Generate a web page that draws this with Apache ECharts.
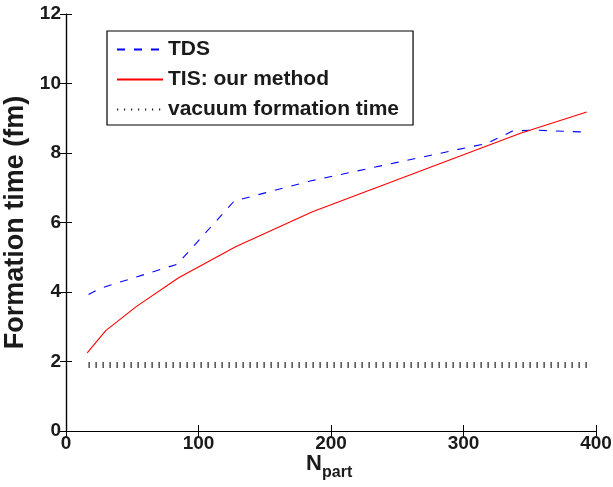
<!DOCTYPE html>
<html>
<head>
<meta charset="utf-8">
<script src="https://cdn.jsdelivr.net/npm/echarts@6/dist/echarts.min.js"></script>
<style>
html,body{margin:0;padding:0;background:#fff;}
#chart{width:613px;height:487px;}
</style>
</head>
<body>
<div id="chart"></div>
<script>
// Data
var tdsN   = [17, 27, 84, 127, 185, 250, 318, 337, 352, 393];
var tdsT   = [3.93, 4.12, 4.80, 6.62, 7.20, 7.73, 8.28, 8.63, 8.66, 8.60];
var tisN   = [16, 30, 53, 85, 128, 186, 343, 393];
var tisT   = [2.25, 2.89, 3.58, 4.41, 5.30, 6.31, 8.57, 9.18];
var vacN   = [17, 393];
var vacT   = [1.9, 1.9];
var seriesNames = ['TDS', 'TIS: our method', 'vacuum formation time'];
var xTicks = [0, 100, 200, 300, 400];
var yTicks = [0, 2, 4, 6, 8, 10, 12];

function pairs(xs, ys) { return xs.map(function (x, i) { return [x, ys[i]]; }); }

var FONT = 'Liberation Sans, Arial, Helvetica, sans-serif';
var TXT = '#1a1a1a';

var chart = echarts.init(document.getElementById('chart'), null, {renderer: 'canvas'});
var axisLineStyle = {show: true, lineStyle: {color: '#000', width: 1.2}};
var tick = {show: true, inside: true, length: 6, lineStyle: {color: '#000', width: 1}};

chart.setOption({
  animation: false,
  backgroundColor: '#fff',
  grid: {left: 66, right: 17, top: 14, bottom: 56, containLabel: false, outerBoundsMode: 'none'},
  xAxis: [{
    type: 'value', position: 'bottom', min: xTicks[0], max: xTicks[xTicks.length - 1], interval: 100,
    axisLine: axisLineStyle, axisTick: tick, splitLine: {show: false},
    axisLabel: {fontFamily: FONT, fontWeight: 'bold', fontSize: 19, color: TXT, margin: 3}
  }, {
    type: 'value', position: 'top', min: xTicks[0], max: xTicks[xTicks.length - 1], interval: 100,
    axisLine: axisLineStyle, axisTick: tick, splitLine: {show: false}, axisLabel: {show: false}
  }],
  yAxis: [{
    type: 'value', position: 'left', min: yTicks[0], max: yTicks[yTicks.length - 1], interval: 2,
    axisLine: axisLineStyle, axisTick: tick, splitLine: {show: false},
    axisLabel: {fontFamily: FONT, fontWeight: 'bold', fontSize: 19, color: TXT, margin: 5},
    name: 'Formation time (fm)', nameLocation: 'middle', nameGap: 36,
    nameTextStyle: {fontFamily: FONT, fontWeight: 'bold', fontSize: 27, color: TXT}
  }, {
    type: 'value', position: 'right', min: yTicks[0], max: yTicks[yTicks.length - 1], interval: 2,
    axisLine: axisLineStyle, axisTick: tick, splitLine: {show: false}, axisLabel: {show: false}
  }],
  legend: {
    orient: 'vertical', left: 107, top: 31,
    data: seriesNames,
    itemWidth: 46, itemHeight: 14, itemGap: 9,
    padding: [8, 14, 5, 9],
    borderColor: '#000', borderWidth: 1.2, backgroundColor: '#fff',
    itemStyle: {color: 'transparent', borderWidth: 0, opacity: 0},
    textStyle: {fontFamily: FONT, fontWeight: 'bold', fontSize: 21, color: TXT}
  },
  graphic: [
    {type: 'text', left: 306, top: 453, style: {text: 'N', font: 'bold 22px ' + FONT, fill: TXT}},
    {type: 'text', left: 322, top: 465, style: {text: 'part', font: 'bold 16px ' + FONT, fill: TXT}}
  ],
  series: [{
    name: seriesNames[0], type: 'line', xAxisIndex: 0, yAxisIndex: 0,
    data: pairs(tdsN, tdsT), symbol: 'none',
    lineStyle: {color: '#0000ff', width: 1.1, type: [8, 9]}, itemStyle: {color: '#0000ff'}
  }, {
    name: seriesNames[1], type: 'line', xAxisIndex: 0, yAxisIndex: 0,
    data: pairs(tisN, tisT), symbol: 'none',
    lineStyle: {color: '#ff0000', width: 1.1, type: 'solid'}, itemStyle: {color: '#ff0000'}
  }, {
    name: seriesNames[2], type: 'line', xAxisIndex: 0, yAxisIndex: 0,
    data: pairs(vacN, vacT), symbol: 'none',
    lineStyle: {color: '#222', width: 6, type: [1.2, 5.8], cap: 'butt'}, itemStyle: {color: '#222'}
  }]
});
</script>
</body>
</html>
